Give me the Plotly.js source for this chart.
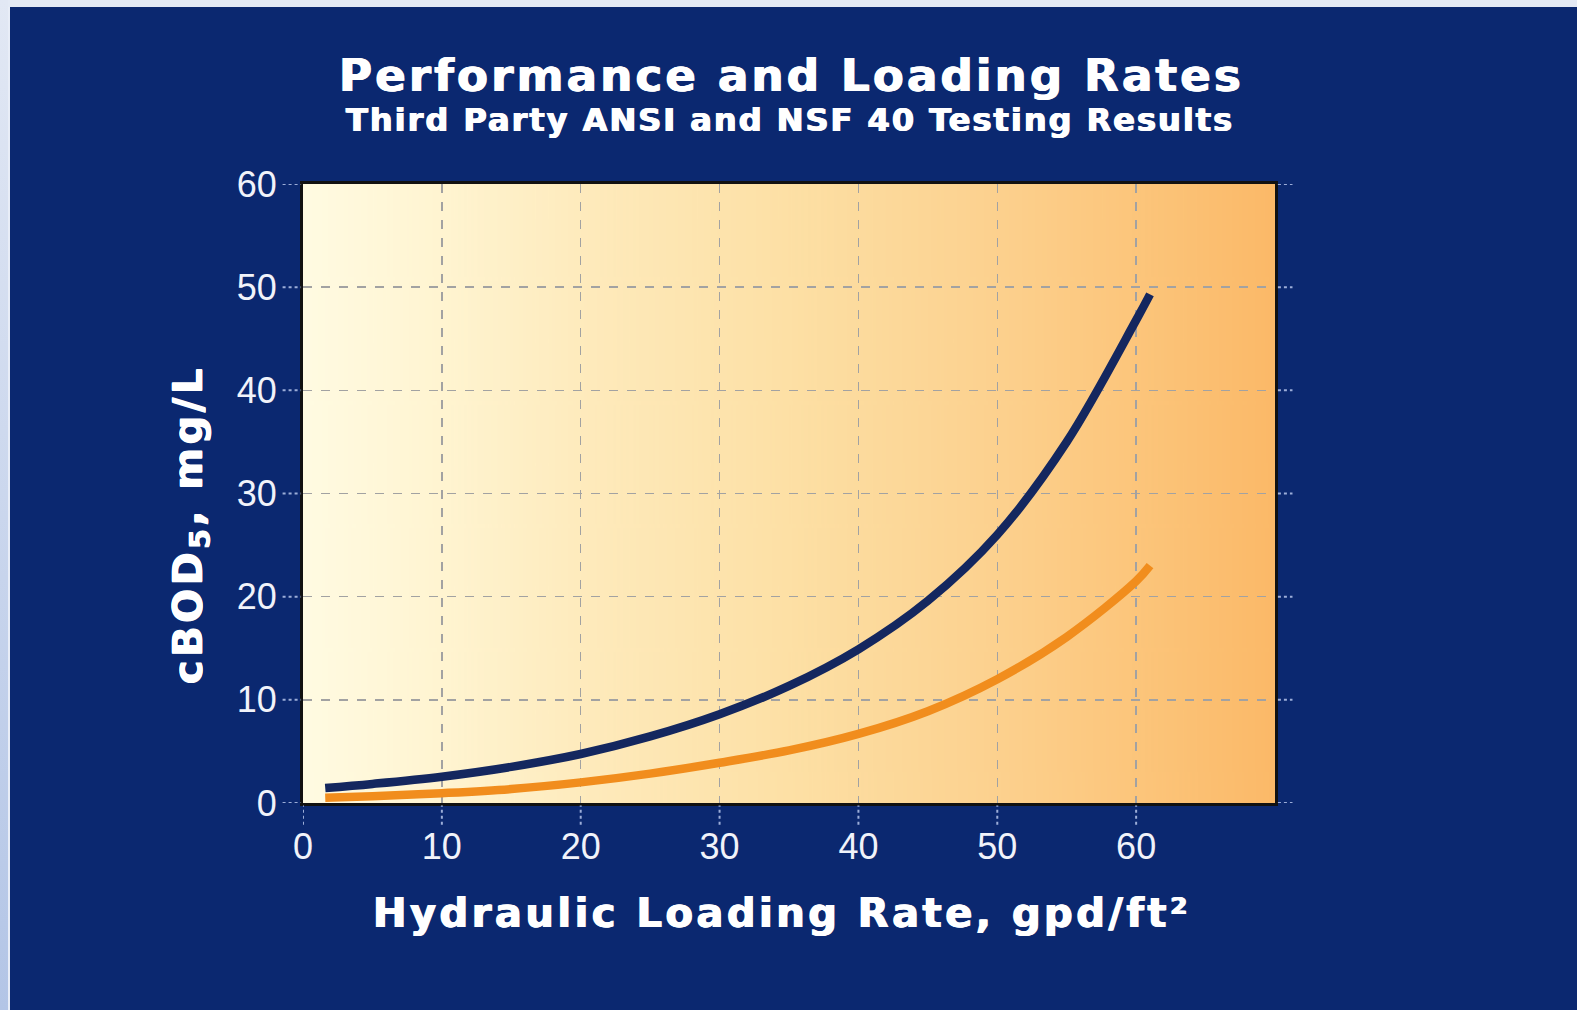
<!DOCTYPE html>
<html><head><meta charset="utf-8">
<script src="https://cdn.plot.ly/plotly-3.0.1.min.js"></script>
<style>
html,body{margin:0;padding:0;width:1577px;height:1010px;overflow:hidden;background:#e4eaf5;}
#strip{position:absolute;left:0;top:0;width:8px;height:1010px;background:linear-gradient(#e2e8f4,#b3c5e6);}
#edge{position:absolute;left:8px;top:7px;width:2px;height:1003px;background:#e8edf7;}
#navy{position:absolute;left:10px;top:7px;width:1567px;height:1003px;background:#0b2870;}
#chart{position:absolute;left:0;top:0;width:1577px;height:1010px;}
</style></head>
<body>
<div id="strip"></div><div id="edge"></div><div id="navy"></div>
<div id="chart"></div>
<script>
// ---- data ----
const loadingRate = [1.6, 5, 10, 15, 20, 25, 30, 35, 40, 45, 50, 55, 60, 61];
const cbodNavy    = [1.45, 1.85, 2.55, 3.5, 4.75, 6.45, 8.6, 11.35, 14.9, 19.6, 26.0, 35.0, 46.8, 49.3];
const cbodOrange  = [0.5, 0.65, 0.95, 1.35, 2.0, 2.85, 3.9, 5.1, 6.7, 8.9, 12.0, 16.1, 21.5, 23.0];
const xTicks = [0, 10, 20, 30, 40, 50, 60];
const yTicks = [0, 10, 20, 30, 40, 50, 60];
const titleText = 'Performance and Loading Rates';
const subtitleText = 'Third Party ANSI and NSF 40 Testing Results';
const xTitleText = 'Hydraulic Loading Rate, gpd/ft²';
const yTitleText = 'cBOD<sub>5</sub>, mg/L';
const bgStops = [[0,'#fffbe2'],[0.15,'#fff4d0'],[0.3,'#feeabb'],[0.5,'#fde0a5'],[0.7,'#fcd290'],[0.85,'#fcc67c'],[1,'#fbb968']];

// ---- gradient background image ----
const cv = document.createElement('canvas'); cv.width = 600; cv.height = 10;
const ctx = cv.getContext('2d');
const grad = ctx.createLinearGradient(0, 0, 600, 0);
bgStops.forEach(s => grad.addColorStop(s[0], s[1]));
ctx.fillStyle = grad; ctx.fillRect(0, 0, 600, 10);

const tickFont = {family: 'Liberation Sans Narrow, Liberation Sans, Arial, sans-serif', size: 36, color: '#f1f3fa'};
const fatShadow = '0.7px 0 0 #ffffff, -0.7px 0 0 #ffffff';
const boldFont = {family: 'DejaVu Sans, sans-serif', color: '#ffffff', shadow: fatShadow};

const traces = [
  {x: loadingRate, y: cbodNavy, type: 'scatter', mode: 'lines',
   line: {color: '#14275f', width: 8.5, shape: 'spline', smoothing: 1}, hoverinfo: 'skip', showlegend: false},
  {x: loadingRate, y: cbodOrange, type: 'scatter', mode: 'lines',
   line: {color: '#f18d1d', width: 8.5, shape: 'spline', smoothing: 1}, hoverinfo: 'skip', showlegend: false}
];

const extColor = '#9cadd8';
const shapes = [];
yTicks.forEach(v => {
  shapes.push({type: 'line', xref: 'paper', yref: 'y', x0: -0.021, x1: -0.002, y0: v, y1: v,
               line: {color: extColor, width: 2, dash: 'dot'}});
  shapes.push({type: 'line', xref: 'paper', yref: 'y', x0: 1.003, x1: 1.018, y0: v, y1: v,
               line: {color: extColor, width: 2, dash: 'dot'}});
});
xTicks.forEach(v => {
  shapes.push({type: 'line', xref: 'x', yref: 'paper', x0: v, x1: v, y0: -0.035, y1: -0.004,
               line: {color: extColor, width: 2, dash: 'dot'}});
});

const axisCommon = {
  showgrid: true, gridcolor: '#a2a2a2', griddash: 'dash', gridwidth: 1.5,
  showline: true, linecolor: '#111111', linewidth: 3, mirror: true,
  zeroline: false, ticks: 'outside', tickcolor: 'rgba(0,0,0,0)',
  tickfont: tickFont, fixedrange: true
};

const layout = {
  width: 1577, height: 1010, autosize: false,
  margin: {l: 303, r: 302, t: 184, b: 207, pad: 0},
  paper_bgcolor: 'rgba(0,0,0,0)', plot_bgcolor: 'rgba(0,0,0,0)',
  showlegend: false,
  xaxis: Object.assign({}, axisCommon, {range: [0, 70], tickvals: xTicks, ticktext: xTicks.map(String), ticklen: 10}),
  yaxis: Object.assign({}, axisCommon, {range: [0, 60], tickvals: yTicks, ticktext: yTicks.map(String), ticklen: 16}),
  yaxis2: {overlaying: 'y', side: 'right', anchor: 'x', range: [0, 60], tickvals: yTicks, ticktext: yTicks.map(String),
           showgrid: false, zeroline: false, showline: false, ticks: 'outside', ticklen: 30,
           tickcolor: 'rgba(0,0,0,0)', tickfont: tickFont, fixedrange: true},
  images: [{source: cv.toDataURL(), xref: 'paper', yref: 'paper', x: 0, y: 1, sizex: 1, sizey: 1,
            sizing: 'stretch', layer: 'below', xanchor: 'left', yanchor: 'top'}],
  shapes: shapes,
  annotations: [
    {text: '<b><span style="letter-spacing:3.2px">' + titleText + '</span></b>', xref: 'paper', yref: 'paper',
     x: 0.503, y: 1.176, xanchor: 'center', yanchor: 'middle', showarrow: false, borderpad: 0,
     font: Object.assign({}, boldFont, {size: 45})},
    {text: '<b><span style="letter-spacing:2px">' + subtitleText + '</span></b>', xref: 'paper', yref: 'paper',
     x: 0.501, y: 1.103, xanchor: 'center', yanchor: 'middle', showarrow: false, borderpad: 0,
     font: Object.assign({}, boldFont, {size: 32})},
    {text: '<b><span style="letter-spacing:3.5px">' + xTitleText + '</span></b>', xref: 'paper', yref: 'paper',
     x: 0.4928, y: -0.1777, xanchor: 'center', yanchor: 'middle', showarrow: false, borderpad: 0,
     font: Object.assign({}, boldFont, {size: 40})},
    {text: '<b><span style="letter-spacing:3.5px">' + yTitleText + '</span></b>', xref: 'paper', yref: 'paper',
     x: -0.1152, y: 0.449, xanchor: 'center', yanchor: 'middle', showarrow: false, textangle: -90, borderpad: 0,
     font: Object.assign({}, boldFont, {size: 40})}
  ]
};

Plotly.newPlot('chart', traces, layout, {staticPlot: true, displayModeBar: false});
</script>
</body></html>
